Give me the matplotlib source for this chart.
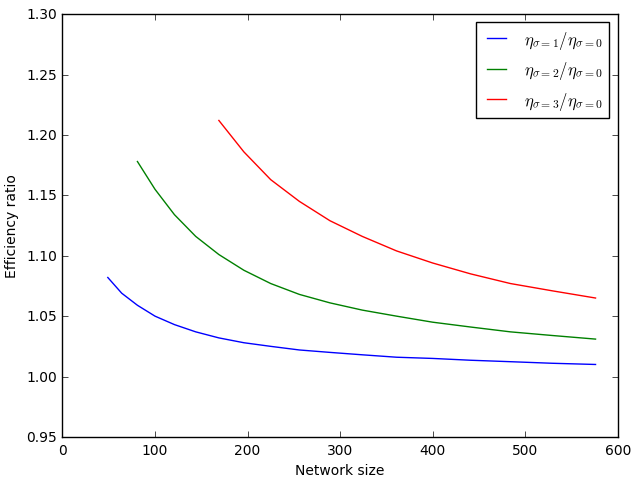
import matplotlib
matplotlib.use('agg')
import matplotlib.pyplot as plt

# network sizes (squares 7^2 .. 24^2)
sizes_1 = [49, 64, 81, 100, 121, 144, 169, 196, 225, 256, 289, 324, 361, 400, 441, 484, 529, 576]
ratio_1 = [1.082, 1.069, 1.059, 1.050, 1.043, 1.037, 1.032, 1.028, 1.025, 1.022, 1.020, 1.018,
           1.016, 1.015, 1.0135, 1.0123, 1.011, 1.010]

sizes_2 = [81, 100, 121, 144, 169, 196, 225, 256, 289, 324, 361, 400, 441, 484, 529, 576]
ratio_2 = [1.178, 1.155, 1.134, 1.116, 1.101, 1.088, 1.077, 1.068, 1.061, 1.055, 1.050, 1.045,
           1.041, 1.037, 1.034, 1.031]

sizes_3 = [169, 196, 225, 256, 289, 324, 361, 400, 441, 484, 529, 576]
ratio_3 = [1.212, 1.186, 1.163, 1.145, 1.129, 1.116, 1.104, 1.094, 1.085, 1.077, 1.071, 1.065]

labels = [r'$\eta_{\sigma=1}/\eta_{\sigma=0}$',
          r'$\eta_{\sigma=2}/\eta_{\sigma=0}$',
          r'$\eta_{\sigma=3}/\eta_{\sigma=0}$']

plt.style.use('classic')
plt.rcParams['figure.facecolor'] = 'white'
plt.rcParams['savefig.facecolor'] = 'white'
plt.rcParams['mathtext.fontset'] = 'cm'

fig = plt.figure(figsize=(6.31, 4.81), dpi=100)
ax = fig.add_axes([0.099, 0.0895, 0.88, 0.879])

ax.plot(sizes_1, ratio_1, 'b-', label=labels[0])
ax.plot(sizes_2, ratio_2, 'g-', label=labels[1])
ax.plot(sizes_3, ratio_3, 'r-', label=labels[2])

ax.set_xlim(0, 600)
ax.set_ylim(0.95, 1.30)
ax.set_xlabel('Network size', fontsize=10)
ax.set_ylabel('Efficiency ratio', fontsize=10)
ax.tick_params(labelsize=10)
ax.legend(loc='upper right', fontsize=12, handlelength=1.7)

fig.savefig('out.png', dpi=100)
plt.close()
